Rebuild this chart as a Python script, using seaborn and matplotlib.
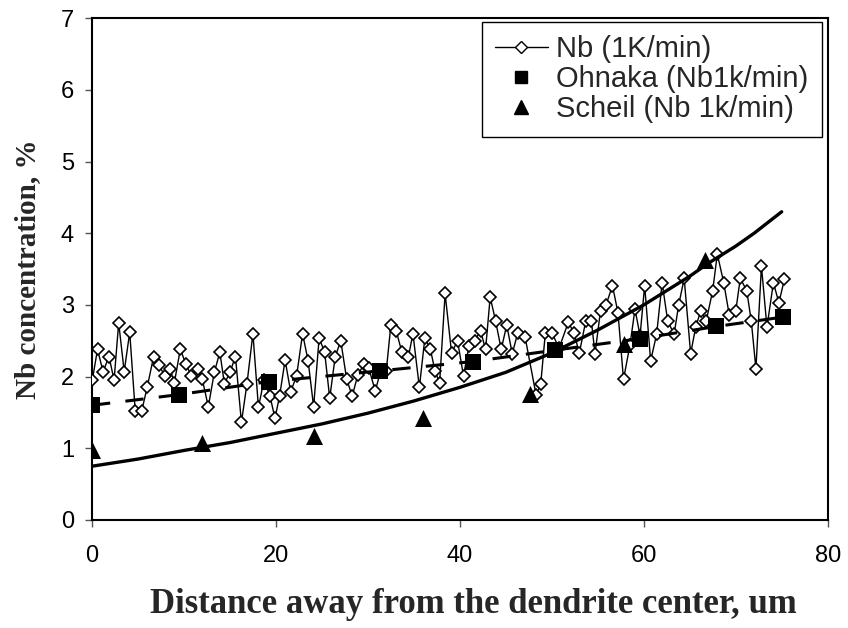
import matplotlib
matplotlib.use("Agg")
import matplotlib.pyplot as plt
import seaborn as sns
import numpy as np
import pandas as pd
from matplotlib.lines import Line2D

# ---------------- data ----------------
nb_x = [0.03, 0.6, 1.2, 1.85, 2.4, 2.9, 3.5, 4.1, 4.7, 5.4, 6.0, 6.7, 7.3, 7.9, 8.5, 8.95,
        9.6, 10.2, 10.8, 11.5, 12.0, 12.65, 13.3, 13.9, 14.4, 15.0, 15.6, 16.25, 16.85, 17.5,
        18.1, 18.7, 19.35, 19.9, 20.4, 21.0, 21.6, 22.25, 22.9, 23.5, 24.1, 24.7, 25.3, 25.85,
        26.45, 27.05, 27.7, 28.3, 28.9, 29.6, 30.1, 30.8, 31.4, 32.0, 32.5, 33.1, 33.7, 34.4,
        34.9, 35.6, 36.2, 36.8, 37.3, 37.8, 38.4, 39.1, 39.75, 40.4, 41.0, 41.6, 42.25, 42.8,
        43.3, 43.9, 44.5, 45.1, 45.7, 46.3, 47.1, 48.3, 48.8, 49.3, 50.0, 50.8, 51.8, 52.4,
        53.0, 53.7, 54.3, 54.7, 55.3, 55.9, 56.6, 57.2, 57.8, 58.5, 59.05, 59.6, 60.1, 60.75,
        61.4, 62.0, 62.6, 63.3, 63.8, 64.4, 65.1, 65.65, 66.2, 66.8, 67.5, 68.0, 68.7, 69.3,
        70.0, 70.5, 71.2, 71.7, 72.2, 72.8, 73.4, 74.1, 74.7, 75.3]
nb_y = [1.95, 2.38, 2.07, 2.28, 1.95, 2.75, 2.07, 2.62, 1.52, 1.52, 1.85, 2.28, 2.16, 2.01, 2.11, 1.91,
        2.38, 2.18, 2.01, 2.11, 1.96, 1.58, 2.06, 2.34, 1.90, 2.06, 2.28, 1.36, 1.90, 2.60,
        1.57, 1.95, 1.73, 1.42, 1.73, 2.23, 1.79, 2.01, 2.60, 2.22, 1.58, 2.54, 2.34, 1.70,
        2.28, 2.50, 1.96, 1.73, 2.02, 2.18, 2.12, 1.80, 2.08, 2.08, 2.72, 2.63, 2.34, 2.27,
        2.60, 1.85, 2.54, 2.38, 2.08, 1.91, 3.16, 2.33, 2.50, 2.01, 2.43, 2.50, 2.64, 2.38,
        3.11, 2.77, 2.38, 2.72, 2.32, 2.61, 2.55, 1.74, 1.90, 2.61, 2.61, 2.40, 2.76, 2.61,
        2.33, 2.78, 2.78, 2.32, 2.92, 3.00, 3.27, 2.89, 1.96, 2.44, 2.94, 2.57, 3.27, 2.22,
        2.59, 3.31, 2.78, 2.59, 3.00, 3.37, 2.32, 2.69, 2.92, 2.78, 3.20, 3.71, 3.31, 2.86,
        2.91, 3.37, 3.20, 2.77, 2.11, 3.54, 2.69, 3.31, 3.03, 3.36]

ohnaka_x = [0, 9.5, 19.2, 31.3, 41.4, 50.4, 59.6, 67.9, 75.1]
ohnaka_y = [1.60, 1.75, 1.93, 2.08, 2.21, 2.37, 2.53, 2.70, 2.83]

scheil_x = [0, 12.0, 24.1, 36.0, 47.6, 57.9, 66.7]
scheil_y = [0.98, 1.07, 1.17, 1.42, 1.76, 2.46, 3.63]

scheil_curve_x = [0, 5, 10, 15, 20, 25, 30, 35, 40, 45, 50, 55, 60, 65, 67, 70, 72, 75]
scheil_curve_y = [0.75, 0.85, 0.97, 1.08, 1.21, 1.34, 1.49, 1.66, 1.85, 2.06, 2.33, 2.65, 3.00, 3.40,
                  3.58, 3.82, 4.00, 4.30]

x_ticks = [0, 20, 40, 60, 80]
y_ticks = [0, 1, 2, 3, 4, 5, 6, 7]

labels = ["Nb (1K/min)", "Ohnaka (Nb1k/min)", "Scheil (Nb 1k/min)"]
x_label = "Distance away from the dendrite center, um"
y_label = "Nb concentration, %"

# ---------------- plot ----------------
sns.set_theme(style="white")
plt.rcParams['font.family'] = ['Liberation Sans', 'DejaVu Sans']

fig = plt.figure(figsize=(8.48, 6.28), dpi=100)
ax = fig.add_axes([0.1085, 0.172, 0.8675, 0.799])

nb_df = pd.DataFrame({"x": nb_x, "y": nb_y})
oh_df = pd.DataFrame({"x": ohnaka_x, "y": ohnaka_y})
sc_df = pd.DataFrame({"x": scheil_x, "y": scheil_y})
scc_df = pd.DataFrame({"x": scheil_curve_x, "y": scheil_curve_y})

sns.lineplot(data=nb_df, x="x", y="y", ax=ax, sort=False, color="black", lw=1.0,
             marker="D", markersize=6.3, markerfacecolor="white", markeredgecolor="black",
             markeredgewidth=1.2, zorder=3)
sns.lineplot(data=oh_df, x="x", y="y", ax=ax, sort=False, color="black", lw=2.2,
             dashes=False, zorder=4)
ax.lines[-1].set_dashes([6, 5])
sns.lineplot(data=scc_df, x="x", y="y", ax=ax, sort=False, color="black", lw=2.4, zorder=4)
sns.scatterplot(data=oh_df, x="x", y="y", ax=ax, marker="s", s=140, color="black",
                edgecolor="black", linewidth=0, zorder=5)
sns.scatterplot(data=sc_df, x="x", y="y", ax=ax, marker="^", s=150, color="black",
                edgecolor="black", linewidth=0, zorder=5)

tick_font = ['Liberation Sans Narrow', 'Liberation Sans', 'DejaVu Sans']
ax.set_xlim(0, 80)
ax.set_ylim(0, 7)
ax.set_xticks(x_ticks)
ax.set_yticks(y_ticks)
ax.set_xticklabels([str(t) for t in x_ticks], family=tick_font, fontsize=17)
ax.set_yticklabels([str(t) for t in y_ticks], family=tick_font, fontsize=17)
ax.tick_params(axis='both', direction='out', length=5, width=1, color='#555555',
               bottom=True, left=True, labelcolor='black')
ax.tick_params(axis='x', pad=13)
ax.tick_params(axis='y', pad=8)
for sp in ax.spines.values():
    sp.set_visible(True)
    sp.set_color('black')
    sp.set_linewidth(1.5)

ax.set_xlabel(x_label, family='Liberation Serif', fontweight='bold', fontsize=25)
ax.xaxis.set_label_coords(0.519, -0.135)
ax.set_ylabel(y_label, family='Liberation Serif', fontweight='bold', fontsize=21, labelpad=14)

handles = [
    Line2D([], [], color='black', lw=1.0, marker='D', markersize=6,
           markerfacecolor='white', markeredgecolor='black', markeredgewidth=1.0),
    Line2D([], [], color='black', ls='', marker='s', markersize=9),
    Line2D([], [], color='black', ls='', marker='^', markersize=10),
]
leg = ax.legend(handles, labels, loc='upper right', bbox_to_anchor=(0.992, 0.992),
                borderaxespad=0, frameon=True, fancybox=False, framealpha=1,
                edgecolor='black', fontsize=21, labelspacing=0.07, borderpad=0.45,
                handlelength=1.8, handletextpad=0.3)
leg.get_frame().set_linewidth(1.0)

fig.savefig("out.png", dpi=100)
